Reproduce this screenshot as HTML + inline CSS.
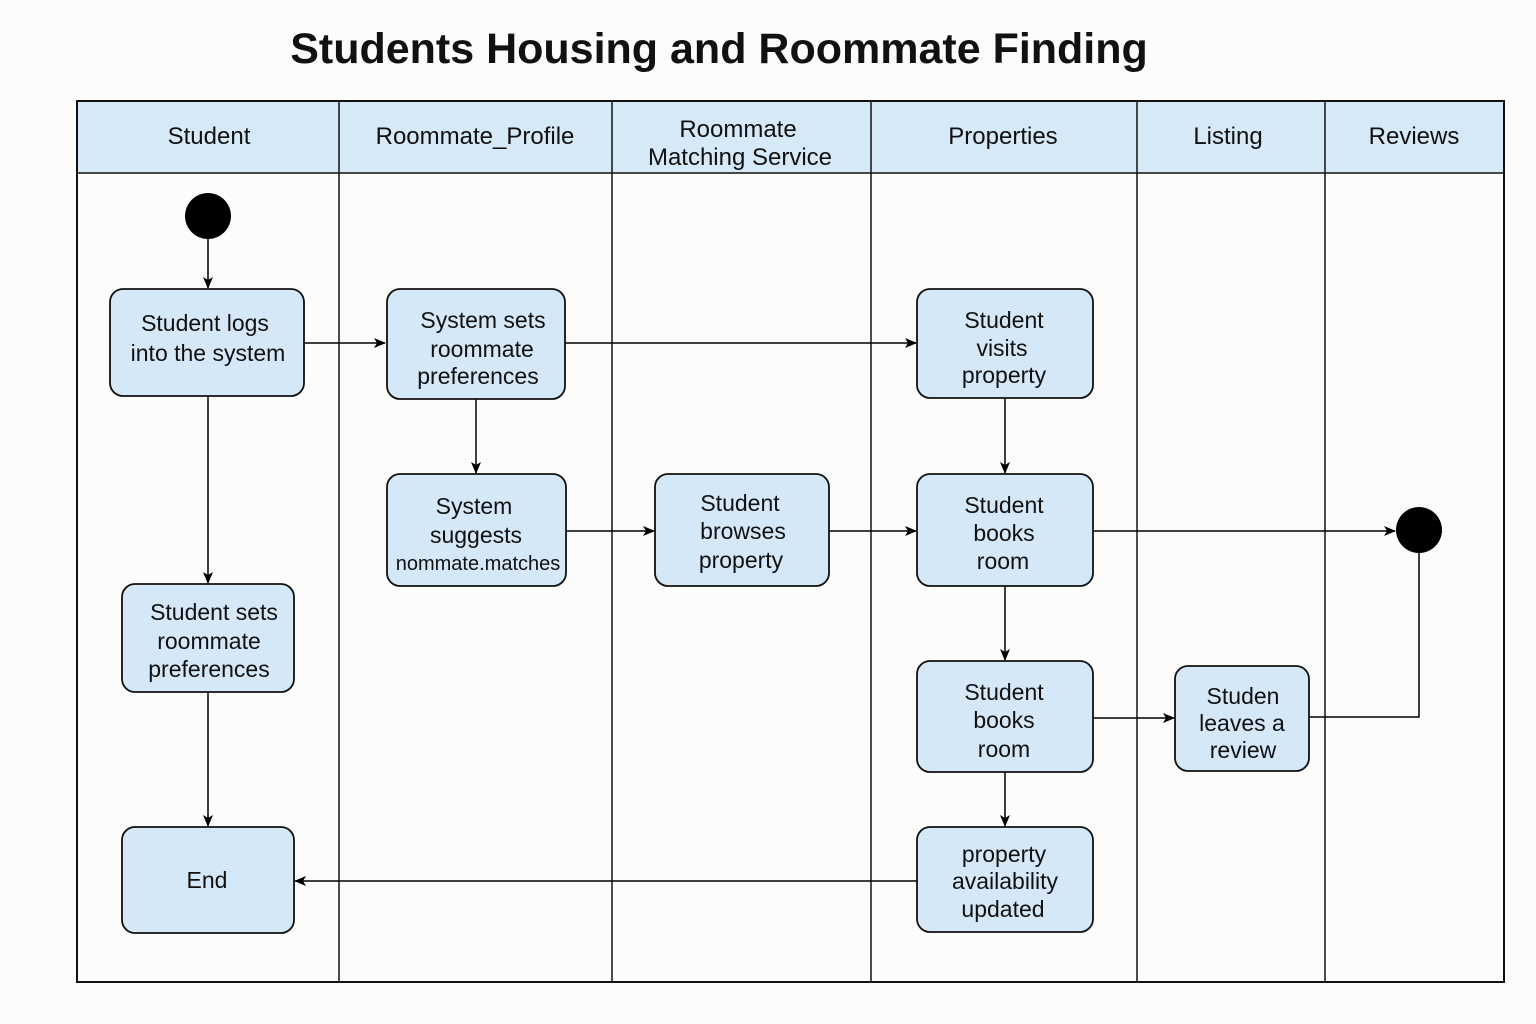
<!DOCTYPE html>
<html><head><meta charset="utf-8"><style>
html,body{margin:0;padding:0;background:#fcfcfa;}
svg{display:block;}
text{font-family:"Liberation Sans",Arial,sans-serif;fill:#111;}
</style></head><body>
<svg width="1536" height="1024" viewBox="0 0 1536 1024" xmlns="http://www.w3.org/2000/svg">
<defs><marker id="a" markerWidth="12" markerHeight="10" refX="11" refY="5" orient="auto" markerUnits="userSpaceOnUse"><path d="M0,0 L12,5 L0,10 L3,5 Z" fill="#000"/></marker></defs>
<rect width="1536" height="1024" fill="#fcfcfa"/>
<text x="719" y="63" text-anchor="middle" font-size="43" font-weight="bold">Students Housing and Roommate Finding</text>
<rect x="77" y="101" width="1427" height="72" fill="#d6e9f7"/>
<rect x="77" y="101" width="1427" height="881" fill="none" stroke="#111" stroke-width="2"/>
<line x1="77" y1="173" x2="1504" y2="173" stroke="#111" stroke-width="1.5"/>
<g stroke="#111" stroke-width="1.5">
<line x1="339" y1="101" x2="339" y2="982"/><line x1="612" y1="101" x2="612" y2="982"/><line x1="871" y1="101" x2="871" y2="982"/><line x1="1137" y1="101" x2="1137" y2="982"/><line x1="1325" y1="101" x2="1325" y2="982"/>
</g>
<g font-size="24" text-anchor="middle">
<text x="209" y="144">Student</text><text x="475" y="144">Roommate_Profile</text>
<text x="738" y="137">Roommate</text><text x="740" y="165">Matching Service</text>
<text x="1003" y="144">Properties</text><text x="1228" y="144">Listing</text><text x="1414" y="144">Reviews</text>
</g>
<circle cx="208" cy="216" r="23" fill="#000"/>
<circle cx="1419" cy="530" r="23" fill="#000"/>
<g fill="none" stroke="#000" stroke-width="1.5" marker-end="url(#a)">
<line x1="208" y1="239" x2="208" y2="288"/>
<line x1="304" y1="343" x2="385" y2="343"/>
<line x1="565" y1="343" x2="916" y2="343"/>
<line x1="208" y1="396" x2="208" y2="583"/>
<line x1="476" y1="399" x2="476" y2="473"/>
<line x1="1005" y1="398" x2="1005" y2="473"/>
<line x1="566" y1="531" x2="654" y2="531"/>
<line x1="829" y1="531" x2="916" y2="531"/>
<line x1="1093" y1="531" x2="1395" y2="531"/>
<line x1="1005" y1="586" x2="1005" y2="660"/>
<line x1="208" y1="692" x2="208" y2="826"/>
<line x1="1093" y1="718" x2="1174" y2="718"/>
<line x1="1005" y1="772" x2="1005" y2="826"/>
<line x1="917" y1="881" x2="295" y2="881"/>
<polyline points="1309,717 1419,717 1419,553" marker-end="none"/>
</g>
<g fill="#d4e8f7" stroke="#111" stroke-width="1.8">
<rect x="110" y="289" width="194" height="107" rx="13"/>
<rect x="387" y="289" width="178" height="110" rx="13"/>
<rect x="917" y="289" width="176" height="109" rx="13"/>
<rect x="387" y="474" width="179" height="112" rx="13"/>
<rect x="655" y="474" width="174" height="112" rx="13"/>
<rect x="917" y="474" width="176" height="112" rx="13"/>
<rect x="122" y="584" width="172" height="108" rx="13"/>
<rect x="917" y="661" width="176" height="111" rx="13"/>
<rect x="1175" y="666" width="134" height="105" rx="13"/>
<rect x="122" y="827" width="172" height="106" rx="13"/>
<rect x="917" y="827" width="176" height="105" rx="13"/>
</g>
<g font-size="23" text-anchor="middle">
<text x="205" y="331">Student logs</text><text x="208" y="361">into the system</text>
<text x="483" y="328">System sets</text><text x="482" y="357">roommate</text><text x="478" y="384">preferences</text>
<text x="1004" y="328">Student</text><text x="1002" y="356">visits</text><text x="1004" y="383">property</text>
<text x="474" y="514">System</text><text x="476" y="543">suggests</text><text x="478" y="570" font-size="20">nommate.matches</text>
<text x="740" y="511">Student</text><text x="743" y="539">browses</text><text x="741" y="568">property</text>
<text x="1004" y="513">Student</text><text x="1004" y="541">books</text><text x="1003" y="569">room</text>
<text x="214" y="620">Student sets</text><text x="209" y="649">roommate</text><text x="209" y="677">preferences</text>
<text x="1004" y="700">Student</text><text x="1004" y="728">books</text><text x="1004" y="757">room</text>
<text x="1243" y="704">Studen</text><text x="1242" y="731">leaves a</text><text x="1243" y="758">review</text>
<text x="207" y="888">End</text>
<text x="1004" y="862">property</text><text x="1005" y="889">availability</text><text x="1003" y="917">updated</text>
</g>
</svg>
</body></html>
